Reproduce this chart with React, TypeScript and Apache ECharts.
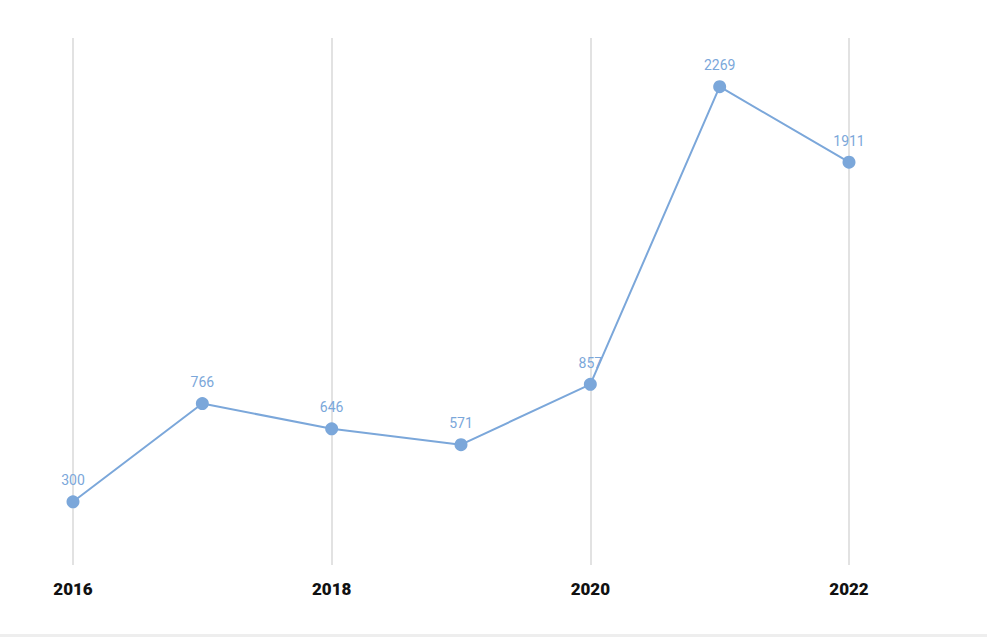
import React, { useEffect, useRef } from "react";
import * as echarts from "echarts";

const years = ["2016", "2017", "2018", "2019", "2020", "2021", "2022"];
const values = [300, 766, 646, 571, 857, 2269, 1911];

export default function App() {
  const ref = useRef<HTMLDivElement>(null);
  useEffect(() => {
    document.body.style.margin = "0";
    const chart = echarts.init(ref.current!, null, { renderer: "svg" });
    chart.setOption({
      animation: false,
      backgroundColor: "#ffffff",
      grid: { left: 73, right: 138, top: 38, bottom: 72 },
      xAxis: {
        type: "category",
        data: years,
        boundaryGap: false,
        axisLine: { show: false },
        axisTick: { show: false },
        axisLabel: {
          interval: 1,
          margin: 15,
          color: "#111111",
          fontFamily: "Roboto, sans-serif",
          fontWeight: 900,
          fontSize: 17,
        },
        splitLine: {
          show: true,
          interval: (i: number) => i % 2 === 0,
          lineStyle: { color: "#d8d8d8", width: 1.5 },
        },
      },
      yAxis: {
        type: "value",
        min: 0,
        max: 2500,
        show: false,
        splitLine: { show: false },
      },
      series: [
        {
          type: "line",
          data: values,
          symbol: "circle",
          symbolSize: 13,
          itemStyle: { color: "#7BA7DA" },
          lineStyle: { color: "#7BA7DA", width: 2 },
          label: {
            show: true,
            position: "top",
            distance: 8,
            color: "#7BA7DA",
            fontFamily: "Roboto, sans-serif",
            fontSize: 14,
          },
        },
      ],
      graphic: [
        {
          type: "rect",
          left: 0,
          bottom: 0,
          shape: { width: 987, height: 3 },
          style: { fill: "#eeeeee" },
        },
      ],
    });
    return () => chart.dispose();
  }, []);
  return <div ref={ref} style={{ width: 987, height: 637 }} />;
}
